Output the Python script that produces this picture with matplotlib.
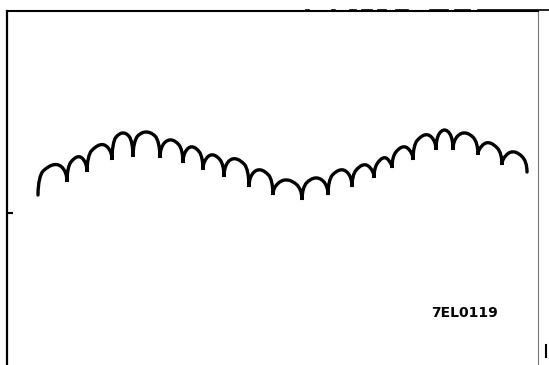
import matplotlib
matplotlib.use("Agg")
import matplotlib.pyplot as plt
from matplotlib.path import Path
from matplotlib.patches import PathPatch

# trace (x in px along the frame, y = height above bottom edge)
start = (38, 170)
cusp_x = [67, 87, 112, 133, 160, 183, 203, 224, 249, 273, 302, 328, 352, 374, 392, 413, 436, 453, 478, 502, 527]
cusp_y = [183, 193, 205, 208, 207, 202, 195, 188, 178, 170, 165, 170, 178, 187, 197, 205, 215, 215, 210, 200, 193]
arc_top = [200, 208, 220, 232, 233, 225, 218, 210, 206, 195, 185, 187, 195, 200, 207, 218, 230, 235, 232, 222, 213]
label = "7EL0119"


def arch_path():
    verts = [start]
    codes = [Path.MOVETO]
    x0, y0 = start
    for x1, y1, top in zip(cusp_x, cusp_y, arc_top):
        w = x1 - x0
        xa, xb = x0 + 0.18 * w, x1 - 0.18 * w
        ha = top - 4 - 0.15 * (y1 - y0)
        hb = top - 4 + 0.15 * (y1 - y0)
        m = (top - 0.5 * (ha + hb)) / 0.75
        dx = 0.2 * w
        verts += [(x0, y0 + 0.5 * (ha - y0)), (xa - 0.5 * dx, ha - 0.5 * m), (xa, ha),
                  (xa + dx, ha + m), (xb - dx, hb + m), (xb, hb),
                  (xb + 0.5 * dx, hb - 0.5 * m), (x1, y1 + 0.5 * (hb - y1)), (x1, y1)]
        codes += [Path.CURVE4] * 9
        x0, y0 = x1, y1
    return Path(verts, codes)


fig = plt.figure(figsize=(5.49, 3.65), dpi=100)
ax = fig.add_axes([7 / 549, 0, 531 / 549, 354 / 365])
ax.set_xlim(7, 538)
ax.set_ylim(0, 354)

ax.add_patch(PathPatch(arch_path(), facecolor="none", edgecolor="black",
                       lw=2.4, capstyle="round", joinstyle="miter"))

ax.text(464, 52, label, fontsize=10, fontweight="bold", ha="center", va="center")

ax.spines["bottom"].set_visible(False)
ax.spines["left"].set_linewidth(1.6)
ax.spines["top"].set_linewidth(1.5)
ax.spines["right"].set_linewidth(0.8)
ax.spines["right"].set_color("#777777")
ax.set_xticks([])
ax.set_yticks([152])
ax.set_yticklabels([])
ax.tick_params(axis="y", direction="in", length=4, width=1.5)

# scan specks along the top right edge
for xa, xb in [(306, 309), (332, 335), (350, 356), (362, 372), (378, 386), (396, 408), (430, 448), (455, 470), (478, 549)]:
    ax.plot([xa, xb], [355.5, 355.5], color="black", lw=1.2, clip_on=False)
ax.plot([546, 546], [8, 20], color="black", lw=1.5, clip_on=False)

fig.savefig("out.png", dpi=100)
